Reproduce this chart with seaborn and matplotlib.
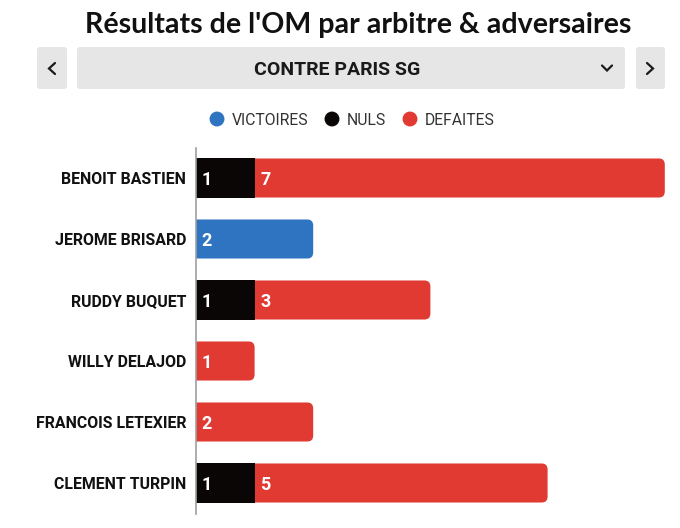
import matplotlib
matplotlib.use("Agg")
import matplotlib.pyplot as plt
from matplotlib.patches import FancyBboxPatch
import seaborn as sns
import pandas as pd

# data
arbitres = ["BENOIT BASTIEN", "JEROME BRISARD", "RUDDY BUQUET",
            "WILLY DELAJOD", "FRANCOIS LETEXIER", "CLEMENT TURPIN"]
victoires = [0, 2, 0, 0, 0, 0]
nuls = [1, 0, 1, 0, 0, 1]
defaites = [7, 0, 3, 1, 2, 5]
series = ["VICTOIRES", "NULS", "DEFAITES"]
colors = {"VICTOIRES": "#2f74c0", "NULS": "#0b0606", "DEFAITES": "#e03a33"}

df = pd.DataFrame({"arbitre": arbitres, "VICTOIRES": victoires,
                   "NULS": nuls, "DEFAITES": defaites})
df["cum_v"] = df["VICTOIRES"]
df["cum_n"] = df["cum_v"] + df["NULS"]
df["cum_d"] = df["cum_n"] + df["DEFAITES"]

sns.set_theme(style="white")
plt.rcParams["font.family"] = ["Roboto", "DejaVu Sans"]

W, H = 680, 528
fig = plt.figure(figsize=(W / 100, H / 100), dpi=100)
ax = fig.add_axes([196 / W, 1 - 513.5 / H, (W - 196) / W, 366 / H])

# stacked bars: draw cumulative totals, widest first
layers = [("DEFAITES", "cum_d"), ("NULS", "cum_n"), ("VICTOIRES", "cum_v")]
patches = {}
for name, col in layers:
    n0 = len(ax.patches)
    sns.barplot(data=df, x=col, y="arbitre", orient="y", color=colors[name],
                saturation=1, width=0.64, linewidth=0, errorbar=None, ax=ax)
    patches[name] = ax.patches[n0:]

# round the right end of the last segment of each bar
for i, row in df.iterrows():
    if row["DEFAITES"] > 0:
        outer = "DEFAITES"
    elif row["NULS"] > 0:
        outer = "NULS"
    else:
        outer = "VICTOIRES"
    total = row["cum_d"]
    for name, col in layers:
        p = patches[name][i]
        if name == outer:
            rb = FancyBboxPatch((-0.3, p.get_y()), total + 0.3, p.get_height(),
                                boxstyle="round,pad=0,rounding_size=0.1",
                                facecolor=colors[name], edgecolor="none",
                                zorder=0.5)
            p.set_visible(False)
            ax.add_patch(rb)
            break
        elif row[col] == total:
            p.set_visible(False)

# value labels inside segments
for i, row in df.iterrows():
    start = 0
    for s in series:
        v = row[s]
        if v > 0:
            ax.text(start + 0.1, i, str(v), color="white", fontsize=13,
                    fontweight="bold", va="center_baseline", ha="left", zorder=5)
        start += v

ax.set_xlim(0, (W - 196) / 58.6)
ax.set_ylim(5.5, -0.5)
ax.set_xlabel("")
ax.set_ylabel("")
ax.set_xticks([])
ax.tick_params(axis="y", length=0, pad=7, labelsize=11.4, labelcolor="#111111")
for lab in ax.get_yticklabels():
    lab.set_fontweight("bold")
for side in ["top", "right", "bottom"]:
    ax.spines[side].set_visible(False)
ax.spines["left"].set_color("#a0a0a0")
ax.spines["left"].set_linewidth(1.2)

# header: title, selector and legend
ui = fig.add_axes([0, 0, 1, 1], zorder=-1)
ui.set_xlim(0, W)
ui.set_ylim(H, 0)
ui.axis("off")

ui.text(358, 25, "Résultats de l'OM par arbitre & adversaires",
        family=["Lato", "DejaVu Sans"], fontweight="bold", fontsize=20.6,
        color="#111111", ha="center", va="center")

for x0, w in [(37, 30), (77, 548), (636, 29)]:
    ui.add_patch(FancyBboxPatch((x0, 47), w, 42,
                                boxstyle="round,pad=0,rounding_size=3",
                                facecolor="#e6e6e6", edgecolor="none"))
ui.text(337, 68, "CONTRE PARIS SG", fontsize=14, fontweight="bold",
        color="#1a1a1a", ha="center", va="center_baseline")
chev = dict(color="#1a1a1a", lw=1.6, solid_capstyle="round", solid_joinstyle="miter")
ui.plot([55, 49, 55], [63, 68.5, 74], **chev)
ui.plot([647, 653, 647], [63, 68.5, 74], **chev)
ui.plot([602, 607, 612], [65.5, 70.5, 65.5], **chev)

leg_x = {"VICTOIRES": 217, "NULS": 332, "DEFAITES": 410}
for s in series:
    ui.scatter([leg_x[s]], [119], s=115, color=colors[s], edgecolor="none")
    ui.text(leg_x[s] + 15, 119, s, fontsize=11.3, color="#333333",
            ha="left", va="center_baseline")

fig.savefig("out.png", dpi=100)
